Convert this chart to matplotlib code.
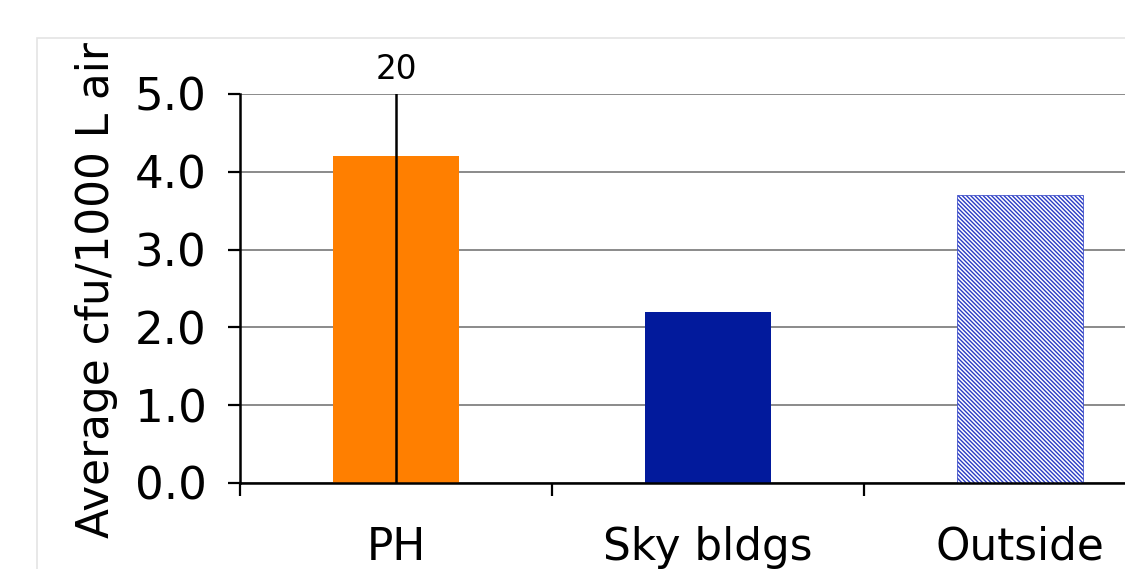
import matplotlib
matplotlib.use("Agg")
import matplotlib.pyplot as plt
from matplotlib.patches import Rectangle

categories = ["PH", "Sky bldgs", "Outside"]
values = [4.2, 2.2, 3.7]
err_upper = [20.0, None, None]
yticks = [0.0, 1.0, 2.0, 3.0, 4.0, 5.0]

plt.rcParams['hatch.linewidth'] = 1.0
plt.rcParams['hatch.color'] = '#2233bb'

fig = plt.figure(figsize=(11.25, 5.69), dpi=100)
W, H = 1125, 569
fig.patches.append(Rectangle((37 / W, -0.1), 1.2, 1 - 38 / H + 0.1, transform=fig.transFigure,
                             facecolor='white', edgecolor='#e4e4e4', linewidth=1.2, zorder=-10))

ax = fig.add_axes([240 / W, (H - 483) / H, 936 / W, (483 - 94) / H])
ax.set_zorder(5)
ax.set_facecolor('none')
x = list(range(len(categories)))
colors = ['#ff7f00', '#021a9c', 'white']
for i, (xi, v) in enumerate(zip(x, values)):
    if i == 2:
        ax.bar(xi, v, width=0.405, facecolor='white', edgecolor='#2a3cc4', hatch='\\' * 8,
               linewidth=0.5, zorder=2)
    else:
        ax.bar(xi, v, width=0.405, color=colors[i], zorder=2)

# error bar for PH (clipped by axis limits)
ax.errorbar([x[0]], [values[0]], yerr=[[values[0]], [err_upper[0] - values[0]]],
            fmt='none', ecolor='black', elinewidth=1.8, capsize=0, zorder=3)
ax.text(x[0], 5.1, f"{err_upper[0]:.0f}", ha='center', va='bottom', fontsize=23.5)

ax.set_xlim(-0.5, 2.5)
ax.set_ylim(0, 5)
ax.set_yticks(yticks)
ax.set_yticklabels([f"{t:.1f}" for t in yticks], fontsize=32.5)
ax.set_xticks([-0.5, 0.5, 1.5, 2.5])
ax.set_xticklabels([])
for xi, c in zip(x, categories):
    ax.text(xi, -0.55, c, ha='center', va='top', fontsize=31.5)
ax.tick_params(axis='y', length=9, width=1.6, direction='out', pad=15)
ax.tick_params(axis='x', length=9, width=1.6, direction='out')
ax.yaxis.grid(True, color='#8a8a8a', linewidth=1.4, zorder=1)
ax.set_axisbelow(True)
for s in ['top', 'right']:
    ax.spines[s].set_visible(False)
for s in ['left', 'bottom']:
    ax.spines[s].set_linewidth(1.8)
    ax.spines[s].set_zorder(4)
fig.text(97 / W, (H - 290) / H, "Average cfu/1000 L air", rotation=90, ha='center', va='center', fontsize=31.5)

fig.savefig("out.png", dpi=100)
